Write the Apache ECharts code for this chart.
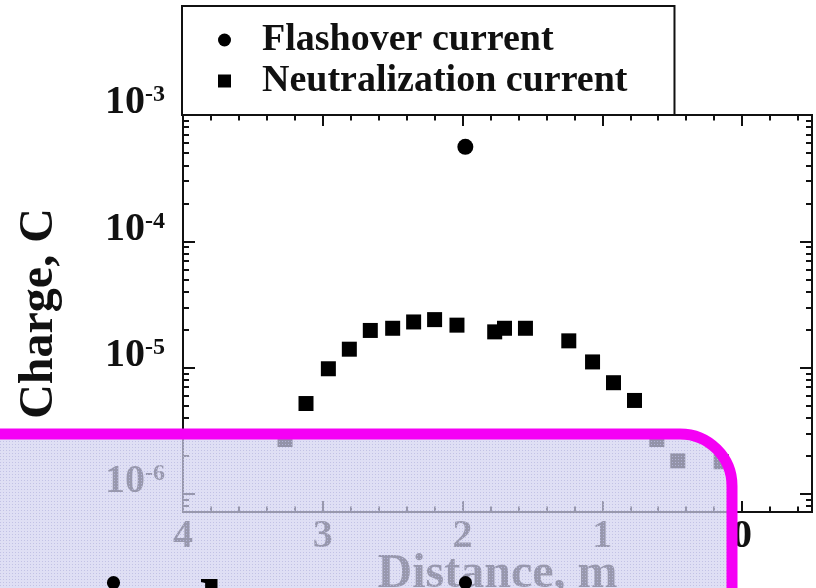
<!DOCTYPE html>
<html><head><meta charset="utf-8">
<script src="https://cdn.jsdelivr.net/npm/echarts@6/dist/echarts.min.js"></script>
<style>html,body{margin:0;padding:0;background:#fff}#c{width:816px;height:588px}</style>
</head><body><div id="c"></div>
<script>
// ---- data ----
const xMajorTicks = [0, 1, 2, 3, 4];
const yMajorTicks = [1e-6, 1e-5, 1e-4, 1e-3];
const flashName = 'Flashover current';
const neutName = 'Neutralization current';
const flashX = [1.98];
const flashY = [5.6e-4];
const neutX = [3.27, 3.12, 2.96, 2.81, 2.66, 2.50, 2.35, 2.20, 2.04, 1.77, 1.70, 1.55, 1.24, 1.07, 0.92, 0.77, 0.61, 0.46, 0.15];
const neutY = [2.7e-6, 5.2e-6, 9.8e-6, 1.4e-5, 1.97e-5, 2.05e-5, 2.3e-5, 2.4e-5, 2.17e-5, 1.92e-5, 2.05e-5, 2.05e-5, 1.63e-5, 1.11e-5, 7.6e-6, 5.5e-6, 2.7e-6, 1.83e-6, 1.8e-6];

// ---- minor ticks ----
const xMinorTicks = [];
for (let i = -2; i <= 19; i++) { if (i % 5 !== 0) xMinorTicks.push(+(i * 0.2).toFixed(1)); }
const yMinorTicks = [];
for (let e = -7; e <= -4; e++) { for (let k = 2; k <= 9; k++) yMinorTicks.push(+(k * Math.pow(10, e)).toPrecision(3)); }

const FONT = 'Liberation Serif';
const INK = '#111';
const lineSt = { color: INK, width: 2 };

function xAxisDef(pos, ticks, len, main) {
  const a = {
    type: 'value', position: pos, min: -0.5, max: 4, inverse: true,
    axisLine: { show: true, onZero: false, lineStyle: lineSt },
    axisTick: { show: true, inside: true, length: len, customValues: ticks, lineStyle: lineSt },
    axisLabel: { show: false },
    splitLine: { show: false }
  };
  if (main) {
    a.axisLabel = { show: true, customValues: xMajorTicks, margin: 5, fontSize: 40, lineHeight: 40, fontWeight: 'bold', fontFamily: FONT, color: INK };
    a.name = 'Distance, m';
    a.nameLocation = 'middle';
    a.nameGap = 39;
    a.nameMoveOverlap = false;
    a.nameTextStyle = { fontSize: 48, lineHeight: 48, fontWeight: 'bold', fontFamily: FONT, color: INK };
  }
  return a;
}
function yAxisDef(pos, ticks, len, main) {
  const a = {
    type: 'log', logBase: 10, position: pos, min: 7.2e-7, max: 1e-3,
    axisLine: { show: true, onZero: false, lineStyle: lineSt },
    axisTick: { show: true, inside: true, length: len, customValues: ticks, lineStyle: lineSt },
    axisLabel: { show: false },
    splitLine: { show: false }
  };
  if (main) {
    a.axisLabel = {
      show: true, customValues: yMajorTicks, margin: 18, verticalAlign: 'bottom',
      padding: [0, 0, -8, 0],
      formatter: v => '{b|10}{s|' + Math.round(Math.log10(v)) + '}',
      rich: {
        b: { fontSize: 40, verticalAlign: 'bottom', fontWeight: 'bold', fontFamily: FONT, color: INK },
        s: { fontSize: 24, verticalAlign: 'top', fontWeight: 'bold', fontFamily: FONT, color: INK }
      }
    };
    a.name = 'Charge, C';
    a.nameLocation = 'middle';
    a.nameGap = 119;
    a.nameMoveOverlap = false;
    a.nameTextStyle = { fontSize: 48, lineHeight: 48, fontWeight: 'bold', fontFamily: FONT, color: INK };
  }
  return a;
}

// overlay pattern tile
const tile = document.createElement('canvas');
tile.width = 3; tile.height = 3;
const g = tile.getContext('2d');
g.fillStyle = 'rgba(210,210,240,0.7)';
g.fillRect(0, 0, 3, 3);
g.fillStyle = 'rgba(186,186,224,0.78)';
g.fillRect(0, 0, 1, 1);

const chart = echarts.init(document.getElementById('c'), null, { renderer: 'canvas' });
chart.setOption({
  backgroundColor: '#fff',
  animation: false,
  grid: { left: 183, right: 4, top: 115, bottom: 76, outerBoundsMode: 'none', containLabel: false },
  legend: {
    left: 182, top: 6, orient: 'vertical',
    data: [flashName, neutName],
    backgroundColor: '#fff',
    borderColor: INK, borderWidth: 2,
    padding: [15, 47, 15, 36],
    itemGap: 3, itemWidth: 13, itemHeight: 13,
    textStyle: { fontSize: 38, lineHeight: 38, fontWeight: 'bold', fontFamily: FONT, color: INK, padding: [0, 0, 0, 26] }
  },
  xAxis: [
    xAxisDef('bottom', xMajorTicks, 11, true),
    xAxisDef('bottom', xMinorTicks, 5.5, false),
    xAxisDef('top', xMajorTicks, 11, false),
    xAxisDef('top', xMinorTicks, 5.5, false)
  ],
  yAxis: [
    yAxisDef('left', yMajorTicks, 12, true),
    yAxisDef('left', yMinorTicks, 6, false),
    yAxisDef('right', yMajorTicks, 12, false),
    yAxisDef('right', yMinorTicks, 6, false)
  ],
  series: [
    { name: flashName, type: 'scatter', symbol: 'circle', symbolSize: 16, itemStyle: { color: '#000', opacity: 1 },
      xAxisIndex: 0, yAxisIndex: 0, data: flashX.map((x, i) => [x, flashY[i]]) },
    { name: neutName, type: 'scatter', symbol: 'rect', symbolSize: 15, itemStyle: { color: '#000', opacity: 1 },
      xAxisIndex: 0, yAxisIndex: 0, data: neutX.map((x, i) => [x, neutY[i]]) }
  ],
  graphic: { elements: [
    { type: 'rect', z: 100, silent: true,
      shape: { x: -100, y: 434, width: 832, height: 300, r: 52 },
      style: { fill: { image: tile, repeat: 'repeat' }, stroke: '#f500f5', lineWidth: 11 } },
    { type: 'text', z: 110, silent: true, style: { text: 'i', x: 101, y: 615, font: 'bold 88px "Liberation Serif"', fill: '#000', verticalAlign: 'middle' } },
    { type: 'text', z: 110, silent: true, style: { text: 'l', x: 199, y: 618, font: 'bold 88px "Liberation Serif"', fill: '#000', verticalAlign: 'middle' } },
    { type: 'text', z: 110, silent: true, style: { text: 'i', x: 453, y: 615, font: 'bold 88px "Liberation Serif"', fill: '#000', verticalAlign: 'middle' } }
  ] }
});
</script>
</body></html>
